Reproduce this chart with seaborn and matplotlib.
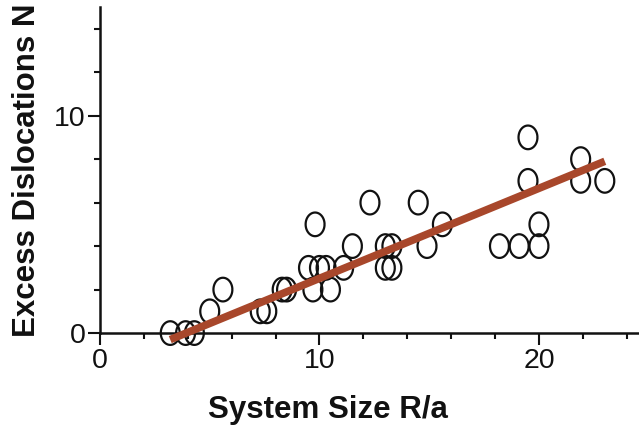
import numpy as np
import matplotlib
matplotlib.use("Agg")
import matplotlib.pyplot as plt
from matplotlib.path import Path
from matplotlib.ticker import MultipleLocator
import seaborn as sns
import pandas as pd

# measured points: system size R/a vs excess dislocations N
size_ra = [3.2, 3.9, 4.3, 5.0, 5.6, 7.3, 7.6, 8.3, 8.5, 9.5, 9.8, 9.7, 10.0, 10.3,
           10.5, 11.1, 11.5, 12.3, 13.0, 13.3, 13.0, 13.3, 14.5, 14.9, 15.6,
           18.2, 19.1, 20.0, 20.0, 19.5, 19.5, 21.9, 21.9, 23.0]
excess_n = [0, 0, 0, 1, 2, 1, 1, 2, 2, 3, 5, 2, 3, 3,
            2, 3, 4, 6, 4, 4, 3, 3, 6, 4, 5,
            4, 4, 4, 5, 7, 9, 7, 8, 7]

# fitted line end points
fit_x = [3.2, 23.0]
fit_y = [-0.3, 7.9]

df = pd.DataFrame({'R': size_ra, 'N': excess_n})

sns.set_style('ticks')
plt.rcParams['font.family'] = ['Liberation Sans', 'DejaVu Sans']

# tall open ellipse marker
t = np.linspace(0, 2 * np.pi, 60)
ellipse = Path(np.column_stack([0.40 * np.cos(t), 0.5 * np.sin(t)]))

fig = plt.figure(figsize=(6.39, 4.32), dpi=100)
ax = fig.add_axes([0.1565, 0.229, 0.8415, 0.755])

sns.scatterplot(data=df, x='R', y='N', marker=ellipse, s=290, fc='none',
                ec='#111111', linewidth=1.6, clip_on=False, zorder=3, ax=ax)
ax.plot(fit_x, fit_y, color='#a8472b', lw=5.5, solid_capstyle='butt',
        clip_on=False, zorder=4)

ax.set_xlim(0, 24.5)
ax.set_ylim(0, 15)
ax.xaxis.set_major_locator(MultipleLocator(10))
ax.xaxis.set_minor_locator(MultipleLocator(2))
ax.yaxis.set_major_locator(MultipleLocator(10))
ax.yaxis.set_minor_locator(MultipleLocator(2))
ax.tick_params(which='major', length=8.5, width=1.5, labelsize=20.5, color='#111111',
               labelcolor='#111111', pad=2)
ax.tick_params(which='minor', length=4, width=1.5, color='#111111')
for side in ['top', 'right']:
    ax.spines[side].set_visible(False)
for side in ['left', 'bottom']:
    ax.spines[side].set_linewidth(1.8)
    ax.spines[side].set_color('#111111')

ax.set_xlabel('System Size R/a', fontsize=22.5, fontweight='bold', color='#111111')
ax.xaxis.set_label_coords(0.424, -0.19)
ax.set_ylabel('Excess Dislocations N', fontsize=22.5, fontweight='bold', color='#111111')
ax.yaxis.set_label_coords(-0.108, 0.5)

fig.savefig('out.png', dpi=100)
